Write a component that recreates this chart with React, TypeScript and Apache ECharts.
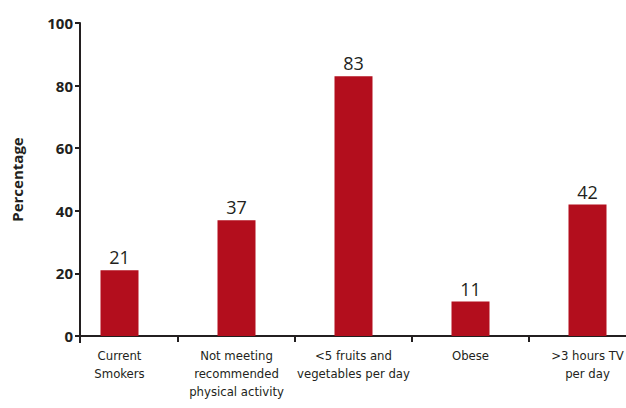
import React, { useEffect, useRef } from "react";
import * as echarts from "echarts";

const categories = [
  "Current\nSmokers",
  "Not meeting\nrecommended\nphysical activity",
  "<5 fruits and\nvegetables per day",
  "Obese",
  ">3 hours TV\nper day",
];
const values = [21, 37, 83, 11, 42];
const yTicks = [0, 20, 40, 60, 80, 100];

const NARROW = "'Liberation Sans Narrow', 'DejaVu Sans Condensed', 'Open Sans', sans-serif";
const INK = "#231F20";

export default function App() {
  const ref = useRef<HTMLDivElement>(null);
  useEffect(() => {
    if (!ref.current) return;
    const chart = echarts.init(ref.current, undefined, { renderer: "svg" });
    chart.setOption({
      animation: false,
      backgroundColor: "#ffffff",
      grid: { left: 61, width: 585, top: 23, height: 313, containLabel: false },
      xAxis: {
        type: "category",
        data: categories,
        boundaryGap: true,
        axisLine: { show: false },
        axisTick: {
          show: true,
          length: 6,
          interval: (i: number) => i !== 0,
          lineStyle: { color: INK, width: 2 },
        },
        axisLabel: {
          interval: 0,
          color: INK,
          fontFamily: NARROW,
          fontSize: 13,
          lineHeight: 18,
          margin: 10,
        },
      },
      yAxis: {
        type: "value",
        min: yTicks[0],
        max: yTicks[yTicks.length - 1],
        interval: 20,
        offset: -19,
        name: "Percentage",
        nameLocation: "middle",
        nameGap: 56,
        nameTextStyle: { color: INK, fontWeight: "bold", fontSize: 15, fontFamily: "'Open Sans', sans-serif" },
        splitLine: { show: false },
        axisLine: { show: true, lineStyle: { color: INK, width: 2 } },
        axisTick: { show: true, length: 5, lineStyle: { color: INK, width: 2 } },
        axisLabel: {
          color: INK,
          fontWeight: "bold",
          fontSize: 15,
          fontFamily: "'Open Sans', sans-serif",
          margin: 7,
        },
      },
      graphic: [
        {
          type: "line",
          shape: { x1: 80, y1: 336, x2: 626, y2: 336 },
          style: { stroke: INK, lineWidth: 2 },
        },
        {
          type: "line",
          shape: { x1: 80, y1: 336, x2: 80, y2: 343 },
          style: { stroke: INK, lineWidth: 2 },
        },
      ],
      series: [
        {
          type: "bar",
          data: values,
          barWidth: 38,
          itemStyle: { color: "#B30E1D" },
          label: {
            show: true,
            position: "top",
            distance: 4,
            color: INK,
            fontSize: 18,
            fontFamily: "'Open Sans', sans-serif",
          },
        },
      ],
    });
    return () => chart.dispose();
  }, []);
  return (
    <div
      style={{
        position: "absolute",
        left: 0,
        top: 0,
        width: 626,
        height: 408,
        overflow: "hidden",
        background: "#ffffff",
      }}
    >
      <div ref={ref} style={{ width: 680, height: 408 }} />
    </div>
  );
}
